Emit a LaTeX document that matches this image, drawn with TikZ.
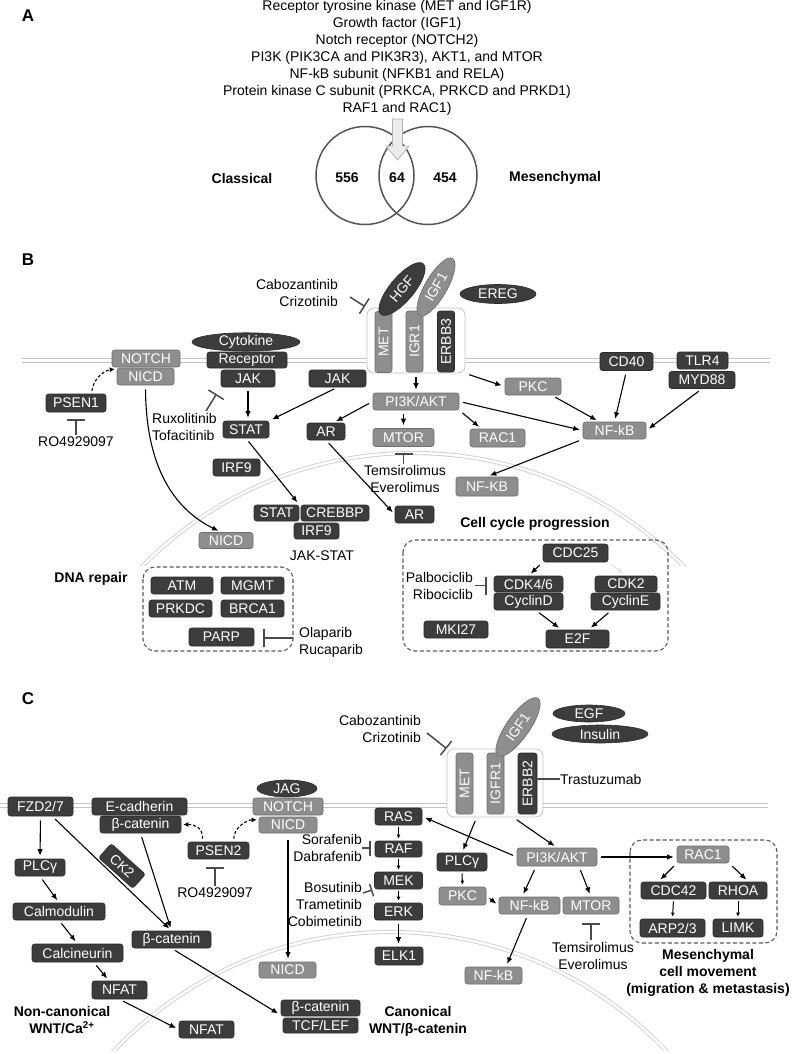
\documentclass[tikz,border=0pt]{standalone}
\usepackage{fontspec}
\setmainfont{Liberation Sans}
\usetikzlibrary{arrows.meta,shapes.geometric}
\definecolor{dkc}{HTML}{3C3C3C}
\definecolor{dkb}{HTML}{2C2C2C}
\definecolor{gyc}{HTML}{8E8E8E}
\definecolor{gyb}{HTML}{6E6E6E}
\definecolor{memc}{HTML}{C4C4C4}
\definecolor{inhc}{HTML}{4A4A4A}
\definecolor{dashc}{HTML}{5A5A5A}
\definecolor{venc}{HTML}{555555}
\newcommand{\fsz}{\fontsize{14}{17}\selectfont}
\begin{document}
\begin{tikzpicture}[x=1pt,y=-1pt,
 bx/.style={rectangle, rounded corners=2.5pt, inner sep=0pt, minimum height=17pt, text=white, font=\fsz, line width=0.6pt},
 dk/.style={bx, fill=dkc, draw=dkb},
 gy/.style={bx, fill=gyc, draw=gyb},
 dke/.style={ellipse, inner sep=0pt, fill=dkc, draw=dkb, text=white, font=\fsz, line width=0.6pt},
 gye/.style={ellipse, inner sep=0pt, fill=gyc, draw=gyb, text=white, font=\fsz, line width=0.6pt},
 lbl/.style={font=\fsz, inner sep=0pt, text=black},
 blbl/.style={font=\fsz\bfseries, inner sep=0pt, align=center},
 plbl/.style={font=\fontsize{17}{20}\selectfont\bfseries, inner sep=0pt},
 arr/.style={draw=black, line width=1.1pt, -{Latex[length=6.5pt,width=5.5pt]}, shorten >=3pt, shorten <=4pt},
 sarr/.style={draw=black, line width=1pt, -{Latex[length=4pt,width=4pt]}, shorten >=2pt, shorten <=2pt},
 darr/.style={draw=black, line width=1.1pt, dash pattern=on 3pt off 2pt, -{Latex[length=5pt,width=5pt]}, shorten >=2pt, shorten <=3pt},
 inh/.style={draw=inhc, line width=1.5pt, -{Bar[width=18pt]}},
 mem/.style={draw=memc, double=white, double distance=2.4pt, line width=1pt},
 nuc/.style={draw=memc!80, double=white, double distance=2.4pt, line width=0.9pt},
 dbox/.style={draw=dashc, line width=1.1pt, dash pattern=on 4pt off 2.5pt, rounded corners=12pt},
 rbox/.style={draw=gray!45, line width=0.8pt, rounded corners=7pt, fill=white, inner sep=0pt},
 vbar/.style={rotate=90, minimum width=61pt, minimum height=17pt},
]
\useasboundingbox (0,0) rectangle (792,1054);
\fill[white] (0,0) rectangle (792,1054);

%================ Panel A
\node[plbl] (labA) at (28,16) {A};
\node[lbl, align=center] (alist) at (397,58) {Receptor tyrosine kinase (MET and IGF1R)\\Growth factor (IGF1)\\Notch receptor (NOTCH2)\\PI3K (PIK3CA and PIK3R3), AKT1, and MTOR\\NF-kB subunit (NFKB1 and RELA)\\Protein kinase C subunit (PRKCA, PRKCD and PRKD1)\\RAF1 and RAC1)};
\draw[venc, line width=1.5pt] (365,175.5) circle[radius=49pt];
\draw[venc, line width=1.5pt] (428,175.5) circle[radius=49pt];
\draw[fill=gray!15, draw=gray!60, line width=0.8pt] (392.5,119) -- (402.5,119) -- (402.5,146) -- (409,146) -- (397.5,160) -- (386,146) -- (392.5,146) -- cycle;
\node[blbl] (classical) at (242,178) {Classical};
\node[blbl] (mesench) at (555,178) {Mesenchymal};
\node[blbl] (n556) at (347,178) {556};
\node[blbl] (n64) at (397,178) {64};
\node[blbl] (n454) at (445,178) {454};

%================ Panel B
\node[plbl] (labB) at (28,260) {B};
\draw[mem] (22,360.5) -- (770,360.5);
\begin{scope}
\clip (0,430) rectangle (792,565);
\draw[nuc] (413,833) circle[radius=380pt];
\end{scope}

\node[rbox, minimum width=98pt, minimum height=65pt] (recboxB) at (416,340.5) {};
\node[gy, vbar] (metB) at (383.5,342) {MET};
\node[gy, vbar] (igr1) at (414.5,341.5) {IGR1};
\node[dk, vbar] (erbb3) at (446,341.5) {ERBB3};
\node[dke, rotate=50, minimum width=66pt, minimum height=24pt] (hgf) at (402,289) {HGF};
\node[gye, rotate=60, minimum width=66pt, minimum height=22pt] (igf1B) at (436,287) {IGF1};
\node[dke, minimum width=76pt, minimum height=19pt] (ereg) at (498,294) {EREG};

\node[gy, minimum width=68pt] (notchB) at (146,358.5) {NOTCH};
\node[gy, minimum width=57pt] (nicdB) at (145.5,376.5) {NICD};
\node[dke, minimum width=108pt, minimum height=18pt] (cytokine) at (246,342) {Cytokine};
\node[dk, minimum width=80pt, minimum height=16pt] (receptor) at (247,360) {Receptor};
\node[dk, minimum width=54pt] (jakA) at (248,378.5) {JAK};
\node[dk, minimum width=57pt] (jakB) at (337.5,378.5) {JAK};
\node[dk, minimum width=60pt, minimum height=18pt] (psen1) at (76,403) {PSEN1};
\node[dk, minimum width=46pt] (statB) at (246,429.5) {STAT};
\node[gy, minimum width=86pt] (pi3kB) at (416,401.5) {PI3K/AKT};
\node[dk, minimum width=38pt] (arB) at (326,431.5) {AR};
\node[gy, minimum width=61pt, minimum height=18pt] (mtorB) at (403.5,437.5) {MTOR};
\node[gy, minimum width=55pt, minimum height=18pt] (rac1B) at (497.5,438) {RAC1};
\node[gy, minimum width=56pt] (pkcB) at (533,386.5) {PKC};
\node[dk, minimum width=53pt, minimum height=18pt] (cd40) at (626.5,361.5) {CD40};
\node[dk, minimum width=51pt] (tlr4) at (702.5,360.5) {TLR4};
\node[dk, minimum width=66pt] (myd88) at (702,380) {MYD88};
\node[gy, minimum width=63pt] (nfkbB) at (614.5,430.5) {NF-kB};
\node[gy, minimum width=62pt, minimum height=19pt] (nfkbnB) at (487,486.5) {NF-KB};
\node[dk, minimum width=39pt] (arnB) at (414.5,514.5) {AR};
\node[dk, minimum width=47pt] (irf9B) at (236.5,467.5) {IRF9};
\node[dk, minimum width=45pt, minimum height=16pt] (statnB) at (276.5,513) {STAT};
\node[dk, minimum width=68pt, minimum height=16pt] (crebbp) at (335,513) {CREBBP};
\node[dk, minimum width=45pt, minimum height=16pt] (irf9nB) at (316.5,531) {IRF9};
\node[gy, minimum width=54pt, minimum height=16pt] (nicdnB) at (226,540.5) {NICD};
\node[lbl] (jakstat) at (322,556) {JAK-STAT};

\node[lbl, align=right, anchor=east] (caboB) at (338,293) {Cabozantinib\\Crizotinib};
\node[lbl, align=left, anchor=west] (ruxo) at (152,426.5) {Ruxolitinib\\Tofacitinib};
\node[lbl, align=center] (temsB) at (405,478.5) {Temsirolimus\\Everolimus};
\node[lbl] (ro1) at (76,442) {RO4929097};

% cell cycle
\node[blbl] (cclbl) at (535,524) {Cell cycle progression};
\draw[dbox] (403,540) rectangle (668,651);
\node[dk, minimum width=65pt, minimum height=18pt] (cdc25) at (575.5,553) {CDC25};
\node[dk, minimum width=69pt, minimum height=16pt] (cdk46) at (528.5,584) {CDK4/6};
\node[dk, minimum width=69pt] (cyclinD) at (528.5,601.5) {CyclinD};
\node[dk, minimum width=62pt, minimum height=16pt] (cdk2) at (626,584) {CDK2};
\node[dk, minimum width=69pt] (cyclinE) at (625.5,601.5) {CyclinE};
\node[dk, minimum width=63pt, minimum height=18pt] (e2f) at (577.5,639) {E2F};
\node[dk, minimum width=64pt] (mki27) at (456,629.5) {MKI27};
\node[lbl, align=right, anchor=east] (palbo) at (473,585.5) {Palbociclib\\Ribociclib};

% DNA repair
\node[blbl] (dnalbl) at (91,579) {DNA repair};
\draw[dbox] (143,567) rectangle (293,651);
\node[dk, minimum width=62pt] (atm) at (182,585.5) {ATM};
\node[dk, minimum width=63pt] (mgmt) at (252.5,585.5) {MGMT};
\node[dk, minimum width=63pt] (prkdc) at (180.5,608.5) {PRKDC};
\node[dk, minimum width=63pt] (brca1) at (252.5,608.5) {BRCA1};
\node[dk, minimum width=65pt, minimum height=18pt] (parp) at (221.5,637) {PARP};
\node[lbl, align=left, anchor=west] (olap) at (299,642.5) {Olaparib\\Rucaparib};

\coordinate (caboBend) at (350,297);
\coordinate (ruxEnd) at (206,411);
\coordinate (olaEnd) at (293,638);

\draw[inh, shorten >=2pt] (caboBend) -- (recboxB.north west);
\draw[inh, shorten >=8pt] (ruxEnd) -- (jakA.south west);
\draw[inh, shorten >=9pt] (olaEnd) -- (olaEnd -| parp.east);
\draw[inh, shorten >=7pt, shorten <=2pt] (ro1.north) -- (psen1.south);
\draw[inh, shorten >=6.5pt, shorten <=1pt] (mtorB.south |- temsB.north) -- (mtorB.south);
\draw[inh, shorten >=7pt, shorten <=2pt] (palbo.east) -- (palbo.east -| cdk46.west);

\draw[arr] (jakA.south) -- (jakA.south |- statB.north);
\draw[arr] (jakB.south) -- (statB.north east);
\draw[arr] (recboxB.south) -- (pi3kB.north);
\draw[arr] (recboxB.south east) -- (pkcB.west);
\draw[arr] (pi3kB.west) -- (arB.50);
\draw[arr] (mtorB.north |- pi3kB.south) -- (mtorB.north);
\draw[arr] (pi3kB.south east) -- (rac1B.150);
\draw[arr] (pi3kB.east) -- (nfkbB.west);
\draw[arr] (pkcB.-25) -- (nfkbB.150);
\draw[arr] (cd40.south) -- (nfkbB.north);
\draw[arr] (myd88.south) -- (nfkbB.east);
\draw[arr] (nfkbB.south west) -- (nfkbnB.north);
\draw[arr] (statB.south) -- (statnB.north east);
\draw[arr] (arB.south) -- (arnB.west);
\draw[arr] (nicdB.south) .. controls (146,475) and (180,512) .. (nicdnB.120);
\draw[darr] (psen1.31) .. controls +(2,-14) and +(-14,2) .. (nicdB.165);
\draw[arr] (cdc25.south west) -- (cdk46.north);
\draw[arr, draw=gray!20] (cdc25.south east) -- (cdk2.north);
\draw[arr] (cyclinD.-50) -- (e2f.150);
\draw[arr] (cyclinE.-148) -- (e2f.40);

%================ Panel C
\node[plbl] (labC) at (28,699) {C};
\draw[mem] (0,805.5) -- (768,805.5);
\begin{scope}
\clip (0,900) rectangle (792,1050);
\draw[nuc] (390,1312) circle[radius=380pt];
\end{scope}

\node[rbox, minimum width=96pt, minimum height=68pt] (recboxC) at (495,783) {};
\node[gy, vbar] (metC) at (464.5,783.5) {MET};
\node[gy, vbar] (igfr1) at (495.5,783.5) {IGFR1};
\node[dk, vbar, minimum height=19pt] (erbb2) at (527.5,783.5) {ERBB2};
\node[gye, rotate=55, minimum width=70pt, minimum height=23pt] (igf1C) at (518,727) {IGF1};
\node[dke, minimum width=72pt, minimum height=17pt] (egf) at (589,713.5) {EGF};
\node[dke, minimum width=96pt, minimum height=18pt] (insulin) at (600,734) {Insulin};
\node[lbl, anchor=west] (trast) at (560,779) {Trastuzumab};
\node[lbl, align=right, anchor=east] (caboC) at (421,728.5) {Cabozantinib\\Crizotinib};

\node[dk, minimum width=65pt, minimum height=19pt] (fzd) at (40.5,806.5) {FZD2/7};
\node[dk, minimum width=95pt] (ecad) at (139.5,806.5) {E-cadherin};
\node[dk, minimum width=81pt] (bcatm) at (140.5,824.5) {β-catenin};
\node[dke, minimum width=60pt, minimum height=17pt] (jag) at (287,788.5) {JAG};
\node[gy, minimum width=70pt] (notchC) at (288,806.5) {NOTCH};
\node[gy, minimum width=58pt, minimum height=16pt] (nicdC) at (288,825) {NICD};
\node[dk, minimum width=61pt] (psen2) at (218.5,850.5) {PSEN2};
\node[lbl] (ro2) at (215,893) {RO4929097};

\node[dk, minimum width=47pt] (ras) at (398.5,816.5) {RAS};
\node[dk, minimum width=47pt, minimum height=16pt] (raf) at (398.5,849) {RAF};
\node[dk, minimum width=48pt] (mek) at (398.5,880.5) {MEK};
\node[dk, minimum width=48pt] (erk) at (398.5,911.5) {ERK};
\node[dk, minimum width=48pt, minimum height=18pt] (elk1) at (399,956) {ELK1};
\node[lbl, align=right, anchor=east] (sora) at (362,848) {Sorafenib\\Dabrafenib};
\node[lbl, align=right, anchor=east] (bosu) at (362,904) {Bosutinib\\Trametinib\\Cobimetinib};

\node[dk, minimum width=50pt, minimum height=18pt] (plcgR) at (462,862) {PLCγ};
\node[gy, minimum width=47pt, minimum height=18pt] (pkcC) at (462.5,896) {PKC};
\node[gy, minimum width=80pt, minimum height=18pt] (pi3kC) at (557,857) {PI3K/AKT};
\node[gy, minimum width=61pt] (nfkbC) at (529.5,905.5) {NF-kB};
\node[gy, minimum width=56pt] (mtorC) at (591,905.5) {MTOR};
\node[gy, minimum width=57pt] (nfkbnC) at (493.5,975.5) {NF-kB};
\node[lbl, align=center] (temsC) at (593,955.5) {Temsirolimus\\Everolimus};

\draw[dbox] (630,840) rectangle (777,943);
\node[gy, minimum width=52pt] (rac1C) at (703,854.5) {RAC1};
\node[dk, minimum width=65pt] (cdc42) at (673.5,890.5) {CDC42};
\node[dk, minimum width=58pt] (rhoa) at (738,890.5) {RHOA};
\node[dk, minimum width=65pt, minimum height=18pt] (arp23) at (672.5,928) {ARP2/3};
\node[dk, minimum width=50pt, minimum height=18pt] (limk) at (738,928) {LIMK};
\node[blbl] (meslbl) at (708,972.5) {Mesenchymal\\cell movement\\(migration \& metastasis)};

\node[gy, minimum width=57pt, minimum height=16pt] (nicdnC) at (287.5,970) {NICD};
\node[dk, minimum width=79pt, minimum height=16pt] (bcatn) at (320.5,1008) {β-catenin};
\node[dk, minimum width=75pt, minimum height=15pt] (tcf) at (320.5,1025.5) {TCF/LEF};
\node[blbl] (canlbl) at (418,1021) {Canonical\\WNT/β-catenin};

\node[dk, minimum width=79pt] (bcatc) at (171.5,939.5) {β-catenin};
\node[dk, rotate=-42, minimum width=46pt, minimum height=19pt] (ck2) at (122,866) {CK2};
\node[dk, minimum width=50pt] (plcgL) at (40,867.5) {PLCγ};
\node[dk, minimum width=92pt] (calmod) at (59,911.5) {Calmodulin};
\node[dk, minimum width=91pt, minimum height=18pt] (calcin) at (77.5,953) {Calcineurin};
\node[dk, minimum width=55pt, minimum height=18pt] (nfat) at (119.5,990) {NFAT};
\node[dk, minimum width=55pt] (nfatn) at (206.5,1029.5) {NFAT};
\node[blbl] (noncan) at (62,1020.5) {Non-canonical\\WNT/Ca\textsuperscript{2+}};

\coordinate (caboCend) at (427,733);
\coordinate (bosuEnd) at (363,893);
\draw[inh, shorten >=0pt] (caboCend) -- (recboxC.north west);
\draw[inh, shorten >=6pt] (trast.west) -- (trast.west -| erbb2.east);
\draw[inh, shorten >=4pt, {-Bar[width=15pt]}] (sora.east) -- (sora.east -| raf.west);
\draw[inh, shorten >=2pt, {-Bar[width=13pt]}] (bosuEnd) -- (mek.south west);
\draw[inh, shorten >=8pt, shorten <=2pt] (ro2.north) -- (ro2.north |- psen2.south);
\draw[inh, shorten >=9pt, shorten <=2pt] (mtorC.south |- temsC.north) -- (mtorC.south);

\draw[arr] (fzd.south) -- (plcgL.north);
\draw[arr] (fzd.-40) -- (bcatc.north);
\draw[arr] (bcatm.south) -- (bcatc.north);
\draw[arr] (plcgL.south) -- (calmod.north);
\draw[arr] (calmod.south) -- (calcin.north);
\draw[arr] (calcin.-30) -- (nfat.138);
\draw[arr] (nfat.south) -- (nfatn.west);
\draw[arr] (bcatc.south) -- (bcatn.-170);
\draw[darr] (psen2.151) .. controls +(0,-14) and +(14,0) .. (bcatm.east);
\draw[darr] (psen2.30) .. controls +(0,-14) and +(-12,0) .. (nicdC.170);
\draw[arr, shorten <=7pt] (nicdC.south) -- (nicdC.south |- nicdnC.north);
\draw[sarr] (ras.south) -- (raf.north);
\draw[sarr] (raf.south) -- (mek.north);
\draw[sarr] (mek.south) -- (erk.north);
\draw[arr] (erk.south) -- (erk.south |- elk1.north);
\draw[arr] (pi3kC.west) -- (ras.east);
\draw[arr] (recboxC.-118) -- (plcgR.north);
\draw[arr] (recboxC.-62) -- (pi3kC.north);
\draw[sarr] (plcgR.south) -- (pkcC.north);
\draw[arr] (pkcC.east) -- (nfkbC.west);
\draw[arr] (pi3kC.-156) -- (nfkbC.130);
\draw[arr] (pi3kC.-23) -- (mtorC.north);
\draw[arr] (pi3kC.east) -- (pi3kC.east -| rac1C.west);
\draw[arr] (nfkbC.-100) -- (nfkbnC.35);
\draw[arr] (rac1C.south west) -- (cdc42.150);
\draw[arr] (rac1C.south east) -- (rhoa.40);
\draw[sarr] (cdc42.south) -- (arp23.north);
\draw[sarr] (rhoa.south) -- (limk.north);
\end{tikzpicture}
\end{document}
